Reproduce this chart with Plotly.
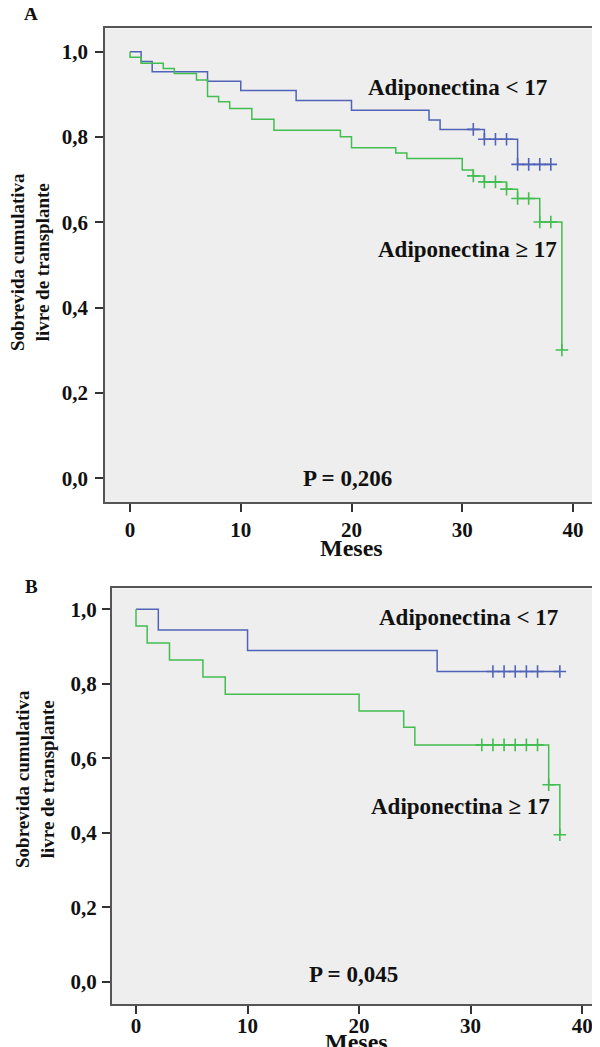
import plotly.graph_objects as go

# ---------------- data ----------------
# Panel A
a_blue_t = [0, 1, 2, 7, 10, 15, 20, 27, 28, 32, 35]
a_blue_s = [1.0, 0.977, 0.953, 0.931, 0.909, 0.886, 0.863, 0.840, 0.818, 0.795, 0.736]
a_blue_cens = [31, 32, 33, 34, 35, 36, 37, 38]

a_green_t = [0, 0, 1, 3, 4, 6, 7, 8, 9, 11, 13, 19, 20, 24, 25, 30, 31, 32, 34, 35, 37, 39]
a_green_s = [1.0, 0.987, 0.973, 0.961, 0.949, 0.934, 0.895, 0.883, 0.867, 0.842, 0.816,
             0.801, 0.775, 0.763, 0.750, 0.723, 0.709, 0.695, 0.678, 0.656, 0.601, 0.301]
a_green_cens = [31, 32, 33, 34, 35, 36, 37, 38, 39]

# Panel B
b_blue_t = [0, 2, 10, 27]
b_blue_s = [1.0, 0.944, 0.889, 0.833]
b_blue_cens = [32, 33, 34, 35, 36, 38]

b_green_t = [0, 0, 1, 3, 6, 8, 20, 24, 25, 37, 38]
b_green_s = [1.0, 0.955, 0.909, 0.864, 0.818, 0.772, 0.727, 0.683, 0.636, 0.529, 0.395]
b_green_cens = [31, 32, 33, 34, 35, 36, 37, 38]

y_ticks = [0.0, 0.2, 0.4, 0.6, 0.8, 1.0]
x_ticks = [0, 10, 20, 30, 40]

label_low = "Adiponectina < 17"
label_high = "Adiponectina ≥ 17"
p_a = "P = 0,206"
p_b = "P = 0,045"
y_title = "Sobrevida cumulativa<br>livre de transplante"
x_title = "Meses"

BLUE = "#5063b8"
GREEN = "#42bd4f"
FONT = "Liberation Serif"
TXT = "#111111"


def step_xy(ts, ss, cens):
    xs, ys = list(ts), list(ss)
    if cens and max(cens) > xs[-1]:
        xs.append(max(cens))
        ys.append(ys[-1])
    return xs, ys


def cens_y(ts, ss, cens):
    out = []
    for c in cens:
        v = ss[0]
        for t, s in zip(ts, ss):
            if t <= c:
                v = s
        out.append(v)
    return out


fig = go.Figure()


def add_curve(ts, ss, cens, color, xa, ya):
    xs, ys = step_xy(ts, ss, cens)
    fig.add_trace(go.Scatter(x=xs, y=ys, mode="lines", line=dict(color=color, width=1.5, shape="hv"),
                             xaxis=xa, yaxis=ya, showlegend=False, hoverinfo="skip"))
    fig.add_trace(go.Scatter(x=cens, y=cens_y(ts, ss, cens), mode="markers",
                             marker=dict(symbol="cross-thin", size=9, color=color,
                                         line=dict(color=color, width=1.6)),
                             xaxis=xa, yaxis=ya, showlegend=False, hoverinfo="skip"))


add_curve(a_blue_t, a_blue_s, a_blue_cens, BLUE, "x", "y")
add_curve(a_green_t, a_green_s, a_green_cens, GREEN, "x", "y")
add_curve(b_blue_t, b_blue_s, b_blue_cens, BLUE, "x2", "y2")
add_curve(b_green_t, b_green_s, b_green_cens, GREEN, "x2", "y2")

# page body has an 8px margin: figure is drawn at (8, 8)
OFF = 8.0
W = 592.0
H = 1039.0


def px(x):
    return (x - OFF) / W


def py(y):
    return 1 - (y - OFF) / H


tickfont = dict(family=FONT, size=21, color=TXT, weight="bold")

common_x = dict(tickvals=x_ticks, ticks="outside", ticklen=8, tickwidth=1.5, tickcolor="#333",
                showline=True, linecolor="#555", linewidth=1.5, mirror=True,
                showgrid=False, zeroline=False, tickfont=tickfont)
common_y = dict(tickvals=y_ticks, tickformat=".1f", ticks="outside", ticklen=8, tickwidth=1.5,
                tickcolor="#333", showline=True, linecolor="#555", linewidth=1.5,
                showgrid=False, zeroline=False, tickfont=tickfont)

fig.update_layout(
    width=int(W), height=int(H),
    margin=dict(l=0, r=0, t=0, b=0),
    paper_bgcolor="white",
    plot_bgcolor="#eeeeee",
    separators=",.",
    xaxis=dict(domain=[px(105), px(597)], range=[-2.26, 42.17], anchor="y", **common_x),
    yaxis=dict(domain=[py(502.3), py(28.3)], range=[-0.056, 1.055], anchor="x",
               mirror=True, ticklabelstandoff=3, **common_y),
    xaxis2=dict(domain=[px(111.7), 1.0], range=[-2.18, 41.6], anchor="y2",
                ticklabelstandoff=-6, **common_x),
    yaxis2=dict(domain=[py(1004), py(588.3)], range=[-0.059, 1.056], anchor="x2",
                mirror=False, ticklabelstandoff=1, **common_y),
)

annfont = dict(family=FONT, size=23, color=TXT, weight="bold")
anns = [
    dict(x=29.6, y=0.917, xref="x", yref="y", text=label_low, font=annfont),
    dict(x=30.5, y=0.537, xref="x", yref="y", text=label_high, font=annfont),
    dict(x=19.6, y=0.0, xref="x", yref="y", text=p_a, font=annfont),
    dict(x=29.8, y=0.977, xref="x2", yref="y2", text=label_low, font=annfont),
    dict(x=29.1, y=0.470, xref="x2", yref="y2", text=label_high, font=annfont),
    dict(x=19.5, y=0.019, xref="x2", yref="y2", text=p_b, font=annfont),
    dict(x=px(351), y=py(548), xref="paper", yref="paper", text=x_title,
         font=dict(family=FONT, size=24, color=TXT, weight="bold")),
    dict(x=px(357), y=py(1042), xref="paper", yref="paper", text=x_title,
         font=dict(family=FONT, size=24, color=TXT, weight="bold")),
    dict(x=px(30), y=py(262), xref="paper", yref="paper", text=y_title, textangle=-90,
         font=dict(family=FONT, size=19, color=TXT, weight="bold")),
    dict(x=px(35), y=py(779), xref="paper", yref="paper", text=y_title, textangle=-90,
         font=dict(family=FONT, size=19, color=TXT, weight="bold")),
    dict(x=px(31), y=py(14), xref="paper", yref="paper", text="A",
         font=dict(family=FONT, size=19, color=TXT, weight="bold")),
    dict(x=px(31), y=py(586), xref="paper", yref="paper", text="B",
         font=dict(family=FONT, size=19, color=TXT, weight="bold")),
]
for a in anns:
    a.update(showarrow=False, xanchor="center", yanchor="middle")
fig.update_layout(annotations=anns)

fig.write_html("out.html")
